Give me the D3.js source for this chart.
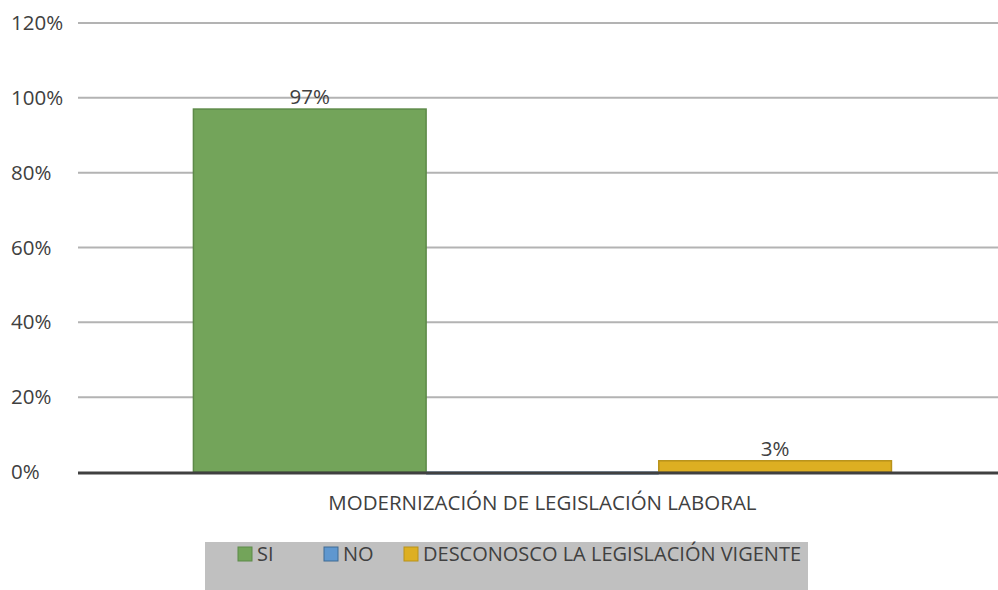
<!DOCTYPE html>
<html>
<head>
<meta charset="utf-8">
<script src="https://cdn.jsdelivr.net/npm/d3@7"></script>
<style>
  body { margin: 0; background: #fff; }
  text { font-family: "Open Sans", "Noto Sans", sans-serif; fill: #404040; }
</style>
</head>
<body>
<script>
const categories = ['MODERNIZACIÓN DE LEGISLACIÓN LABORAL']
const seriesNames = ['SI', 'NO', 'DESCONOSCO LA LEGISLACIÓN VIGENTE']
const seriesValues = [0.97, 0, 0.03]
const valueLabels = ['97%', '', '3%']
const yTicks = [0, 0.2, 0.4, 0.6, 0.8, 1.0, 1.2]

const fills = ['#73a45a', '#5f97cf', '#ddaf22']
const strokes = ['#5d8a48', '#3f6a93', '#b8921a']

const W = 998, H = 590
const m = { left: 78, right: 0, top: 23, bottom: 118 }
const fs = 20.5

const svg = d3.select('body').append('svg').attr('width', W).attr('height', H)

const y = d3.scaleLinear().domain([0, 1.2]).range([H - m.bottom, m.top])

const x0 = d3.scaleBand()
    .domain(categories)
    .range([m.left, W - m.right])
    .paddingInner(0)
    .paddingOuter(0.159)
    .align(0.52)

const x1 = d3.scaleBand()
    .domain(seriesNames)
    .range([0, x0.bandwidth()])

// legend background
svg.append('rect')
    .attr('x', 205).attr('y', 542).attr('width', 603).attr('height', 48)
    .attr('fill', '#c0c0c0')

// gridlines
svg.append('g')
    .selectAll('line')
    .data(yTicks.filter(d => d > 0))
    .enter().append('line')
        .attr('x1', m.left)
        .attr('x2', W - m.right)
        .attr('y1', d => y(d))
        .attr('y2', d => y(d))
        .attr('stroke', '#b3b3b3')
        .attr('stroke-width', 2)

// y axis labels
const yAxis = d3.axisLeft(y).tickValues(yTicks).tickFormat(d3.format('.0%')).tickSize(0)
const gy = svg.append('g').attr('transform', 'translate(' + m.left + ',0)').call(yAxis)
gy.select('.domain').remove()
gy.selectAll('text').attr('font-size', fs).attr('fill', '#595959').attr('text-anchor', 'start').attr('x', -67)

const group = svg.append('g')
    .attr('transform', 'translate(' + x0(categories[0]) + ',0)')

// baseline
svg.append('line')
    .attr('x1', m.left)
    .attr('x2', W - m.right)
    .attr('y1', y(0) + 1)
    .attr('y2', y(0) + 1)
    .attr('stroke', '#404040')
    .attr('stroke-width', 3)

group.selectAll('rect')
    .data(seriesValues)
    .enter().append('rect')
        .attr('x', (d, i) => x1(seriesNames[i]))
        .attr('width', x1.bandwidth())
        .attr('y', d => d > 0 ? y(d) : y(0) - 0.5)
        .attr('height', d => d > 0 ? y(0) - y(d) : 3)
        .attr('fill', (d, i) => d > 0 ? fills[i] : '#3e6a95')
        .attr('stroke', (d, i) => d > 0 ? strokes[i] : 'none')
        .attr('stroke-width', 1.5)

group.selectAll('text.val')
    .data(seriesValues)
    .enter().append('text')
        .attr('class', 'val')
        .attr('x', (d, i) => x1(seriesNames[i]) + x1.bandwidth() / 2)
        .attr('y', d => y(d) - 5)
        .attr('text-anchor', 'middle')
        .attr('font-size', fs)
        .attr('fill', '#404040')
        .text((d, i) => valueLabels[i])

// category label
svg.append('text')
    .attr('x', x0(categories[0]) + x0.bandwidth() / 2)
    .attr('y', y(0) + 38)
    .attr('text-anchor', 'middle')
    .attr('font-size', fs)
    .attr('fill', '#404040')
    .text(categories[0])

// legend
const legendX = [238, 324, 404]
const items = svg.append('g').selectAll('g')
    .data(seriesNames)
    .enter().append('g')
        .attr('transform', (d, i) => 'translate(' + legendX[i] + ',547)')
items.append('rect')
    .attr('width', 14).attr('height', 14)
    .attr('fill', (d, i) => fills[i])
    .attr('stroke', (d, i) => strokes[i])
items.append('text')
    .attr('x', 19).attr('y', 14)
    .attr('font-size', 20)
    .attr('fill', '#404040')
    .text(d => d)
</script>
</body>
</html>
